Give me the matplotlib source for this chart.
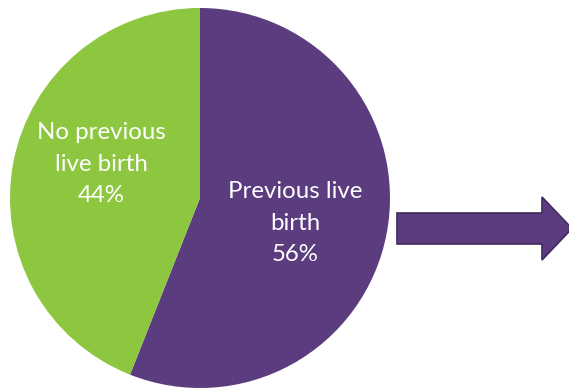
import matplotlib.pyplot as plt
from matplotlib.patches import FancyArrow

labels = ["Previous live\nbirth", "No previous\nlive birth"]
values = [56, 44]
colors = ["#5B3C7E", "#8DC63F"]

plt.rcParams["font.family"] = ["Lato", "DejaVu Sans"]

fig = plt.figure(figsize=(5.69, 3.89), dpi=100)
ax = fig.add_axes([0, 0, 1, 1])

# pie drawn in pixel coords (y up)
ax.pie(values, colors=colors, startangle=90, counterclock=False,
       center=(200, 191), radius=190, frame=True)
ax.set_xlim(0, 569)
ax.set_ylim(0, 389)
ax.axis("off")

# label positions (pixel coords)
text_pos = [(295, 166), (101, 225)]
for lab, v, (x, y) in zip(labels, values, text_pos):
    ax.text(x, y, f"{lab}\n{v}%", color="white", fontsize=17.3,
            ha="center", va="center", linespacing=1.6)

# arrow to the right
arr = FancyArrow(397, 160.5, 175, 0, width=31, head_width=63, head_length=30,
                 length_includes_head=True, facecolor="#5B3C7E",
                 edgecolor="#3F2A5E", linewidth=1.2)
ax.add_patch(arr)

fig.savefig("out.png", dpi=100)
